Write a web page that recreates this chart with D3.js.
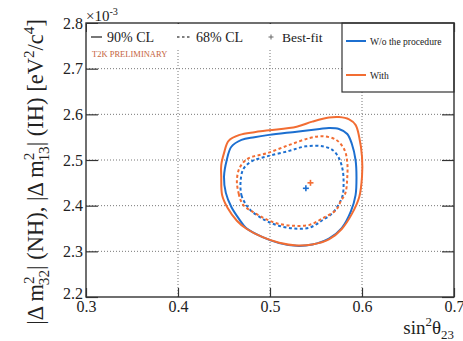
<!DOCTYPE html>
<html>
<head>
<meta charset="utf-8">
<script src="https://d3js.org/d3.v7.min.js"></script>
<style>
  body { margin: 0; background: #fff; }
  svg text { font-family: "Liberation Serif", "Times New Roman", Times, "DejaVu Serif", serif !important; fill: #222; }
</style>
</head>
<body>
<div class="chart"></div>
<script>
// data: [sin^2 theta23, dm^2 (x1e-3 eV^2)]
var xTicks = [0.3, 0.4, 0.5, 0.6, 0.7];
var yTicks = [2.2, 2.3, 2.4, 2.5, 2.6, 2.7, 2.8];

var blue90 = [
  [0.450, 2.463], [0.452, 2.428], [0.458, 2.397], [0.467, 2.369], [0.474, 2.351],
  [0.492, 2.331], [0.510, 2.318], [0.529, 2.312], [0.546, 2.315], [0.564, 2.328],
  [0.578, 2.351], [0.588, 2.388], [0.593, 2.423], [0.594, 2.463], [0.593, 2.500],
  [0.589, 2.535], [0.584, 2.557], [0.575, 2.568], [0.564, 2.570], [0.554, 2.568],
  [0.529, 2.562], [0.499, 2.555], [0.483, 2.550], [0.469, 2.544], [0.458, 2.529],
  [0.453, 2.500]
];
var orange90 = [
  [0.447, 2.463], [0.448, 2.423], [0.454, 2.395], [0.464, 2.367], [0.474, 2.350],
  [0.492, 2.331], [0.510, 2.319], [0.529, 2.313], [0.546, 2.315], [0.564, 2.326],
  [0.578, 2.349], [0.589, 2.382], [0.597, 2.419], [0.600, 2.463], [0.600, 2.507],
  [0.597, 2.550], [0.593, 2.577], [0.586, 2.589], [0.575, 2.594], [0.564, 2.593],
  [0.546, 2.584], [0.529, 2.573], [0.499, 2.565], [0.483, 2.561], [0.467, 2.555],
  [0.455, 2.542], [0.450, 2.515], [0.447, 2.489]
];
var blue68 = [
  [0.468, 2.452], [0.469, 2.423], [0.474, 2.402], [0.480, 2.388], [0.494, 2.369],
  [0.508, 2.357], [0.526, 2.350], [0.543, 2.352], [0.557, 2.368], [0.568, 2.384],
  [0.575, 2.404], [0.579, 2.423], [0.580, 2.450], [0.579, 2.478], [0.575, 2.504],
  [0.568, 2.522], [0.557, 2.530], [0.539, 2.530], [0.521, 2.520], [0.497, 2.508],
  [0.480, 2.497], [0.471, 2.480]
];
var orange68 = [
  [0.464, 2.454], [0.466, 2.426], [0.468, 2.412], [0.472, 2.399], [0.480, 2.388],
  [0.494, 2.372], [0.508, 2.361], [0.526, 2.356], [0.543, 2.358], [0.557, 2.372],
  [0.572, 2.391], [0.577, 2.410], [0.582, 2.428], [0.584, 2.463], [0.584, 2.494],
  [0.581, 2.522], [0.572, 2.544], [0.557, 2.552], [0.543, 2.548], [0.521, 2.533],
  [0.497, 2.515], [0.476, 2.503], [0.467, 2.483]
];
var bestFit = [[0.539, 2.438], [0.544, 2.450]];

var seriesNames = ["W/o the procedure", "With"];
var seriesColors = ["#1c6fd0", "#f26d33"];

var svgWidth = 463;
var svgHeight = 341;
var frame = { left: 86, right: 454, top: 23, bottom: 297 };
var serif = "'Liberation Serif', 'Times New Roman', Times, 'DejaVu Serif', serif";

var svg = d3.select(".chart")
  .append("svg")
  .attr("width", svgWidth)
  .attr("height", svgHeight)
  .style("font-family", serif);

var x = d3.scaleLinear().domain([0.3, 0.7]).range([frame.left, frame.right]);
var y = d3.scaleLinear().domain([2.2, 2.8]).range([frame.bottom, frame.top]);

// dotted grid
var grid = svg.append("g")
  .attr("stroke", "#777")
  .attr("stroke-width", 1)
  .attr("stroke-dasharray", "1,2");

grid.selectAll(".gx")
  .data(xTicks.slice(1, -1))
  .enter()
  .append("line")
  .attr("x1", d => x(d)).attr("x2", d => x(d))
  .attr("y1", frame.top).attr("y2", frame.bottom);

grid.selectAll(".gy")
  .data(yTicks.slice(1, -1))
  .enter()
  .append("line")
  .attr("y1", d => y(d)).attr("y2", d => y(d))
  .attr("x1", frame.left).attr("x2", frame.right);

// axes with inward ticks
var fmt = d3.format(".1f");

var xAxis = svg.append("g")
  .attr("transform", `translate(0, ${frame.bottom})`)
  .call(d3.axisBottom(x).tickValues(xTicks).tickFormat(fmt).tickSize(-9).tickPadding(4));

var xAxisTop = svg.append("g")
  .attr("transform", `translate(0, ${frame.top})`)
  .call(d3.axisTop(x).tickValues(xTicks).tickFormat("").tickSize(-9));

var yAxis = svg.append("g")
  .attr("transform", `translate(${frame.left}, 0)`)
  .call(d3.axisLeft(y).tickValues(yTicks).tickFormat(fmt).tickSize(-12).tickPadding(3));

var yAxisRight = svg.append("g")
  .attr("transform", `translate(${frame.right}, 0)`)
  .call(d3.axisRight(y).tickValues(yTicks).tickFormat("").tickSize(-12));

svg.selectAll(".domain").remove();
svg.selectAll(".tick line").attr("stroke", "#333").attr("stroke-width", 1.2);
svg.selectAll("g.tick text")
  .style("font-family", serif)
  .attr("font-size", 16)
  .attr("fill", "#222");
// lowest y label sits just above the 0.3 label
yAxis.selectAll("g.tick text").filter(d => d === 2.2).attr("dy", "0.1em");

// contours
var line = d3.line()
  .x(d => x(d[0]))
  .y(d => y(d[1]))
  .curve(d3.curveCatmullRomClosed.alpha(0.5));

var contours = [
  { pts: blue90, color: seriesColors[0], dash: null },
  { pts: orange90, color: seriesColors[1], dash: null },
  { pts: blue68, color: seriesColors[0], dash: "3,2.5" },
  { pts: orange68, color: seriesColors[1], dash: "3,2.5" }
];

svg.append("g")
  .selectAll("path")
  .data(contours)
  .enter()
  .append("path")
  .attr("d", d => line(d.pts))
  .attr("fill", "none")
  .attr("stroke", d => d.color)
  .attr("stroke-width", 2)
  .attr("stroke-dasharray", d => d.dash);

// best-fit crosses
var cross = svg.append("g")
  .selectAll("g")
  .data(bestFit)
  .enter()
  .append("g")
  .attr("transform", d => `translate(${x(d[0])}, ${y(d[1])})`)
  .attr("stroke", (d, i) => seriesColors[i])
  .attr("stroke-width", 1.6);
cross.append("line").attr("x1", -3).attr("x2", 3);
cross.append("line").attr("y1", -3).attr("y2", 3);

// legend boxes cover the grid
svg.append("rect")
  .attr("x", frame.left + 1).attr("y", frame.top + 1)
  .attr("width", 342 - frame.left - 1).attr("height", 26)
  .attr("fill", "#fff");

svg.append("rect")
  .attr("x", 342).attr("y", frame.top)
  .attr("width", frame.right - 342).attr("height", 69)
  .attr("fill", "#fff")
  .attr("stroke", "#333")
  .attr("stroke-width", 1.2);

// frame
svg.append("rect")
  .attr("x", frame.left).attr("y", frame.top)
  .attr("width", frame.right - frame.left).attr("height", frame.bottom - frame.top)
  .attr("fill", "none")
  .attr("stroke", "#333")
  .attr("stroke-width", 1.4);

// top legend: line styles
var topLegend = svg.append("g");
topLegend.append("line")
  .attr("x1", 91).attr("x2", 102).attr("y1", 37).attr("y2", 37)
  .attr("stroke", "#555").attr("stroke-width", 1.6);
topLegend.append("text").attr("x", 107).attr("y", 42).attr("font-size", 14).text("90% CL");
topLegend.append("line")
  .attr("x1", 177).attr("x2", 192).attr("y1", 37).attr("y2", 37)
  .attr("stroke", "#555").attr("stroke-width", 1.4).attr("stroke-dasharray", "2.5,2.5");
topLegend.append("text").attr("x", 196).attr("y", 42).attr("font-size", 14).text("68% CL");
var lc = topLegend.append("g")
  .attr("transform", "translate(271, 37)")
  .attr("stroke", "#666").attr("stroke-width", 1);
lc.append("line").attr("x1", -2.5).attr("x2", 2.5);
lc.append("line").attr("y1", -2.5).attr("y2", 2.5);
topLegend.append("text").attr("x", 282).attr("y", 42).attr("font-size", 13.5).text("Best-fit");

svg.append("text")
  .attr("x", 92).attr("y", 57)
  .attr("font-size", 8.5)
  .style("fill", "#c5643d")
  .text("T2K PRELIMINARY");

// series legend
var legend = svg.append("g")
  .selectAll("g")
  .data(seriesNames)
  .enter()
  .append("g")
  .attr("transform", (d, i) => `translate(346, ${41 + i * 34})`);
legend.append("line")
  .attr("x1", 0).attr("x2", 20)
  .attr("stroke", (d, i) => seriesColors[i])
  .attr("stroke-width", 2);
legend.append("text")
  .attr("x", 24).attr("y", 3.5)
  .attr("font-size", 9.6)
  .text(d => d);

// text with super/subscripts built from pieces
function richText(sel, pieces, size) {
  var shift = 0;
  pieces.forEach(function (p) {
    var ts = sel.append("tspan").text(p.t);
    var target = p.sup ? -0.42 * size : p.sub ? 0.28 * size : 0;
    ts.attr("dy", target - shift);
    shift = target;
    if (p.sup || p.sub) ts.attr("font-size", size * 0.68);
    if (p.dx) ts.attr("dx", p.dx);
  });
}

var expo = svg.append("text").attr("x", 86).attr("y", 21).attr("font-size", 15);
richText(expo, [{ t: "\u00d710" }, { t: "-3", sup: true }], 15);

var xTitle = svg.append("text")
  .attr("x", 454).attr("y", 334)
  .attr("text-anchor", "end")
  .attr("font-size", 19);
richText(xTitle, [{ t: "sin" }, { t: "2", sup: true }, { t: "\u03b8" }, { t: "23", sub: true }], 19);

var yTitle = svg.append("text")
  .attr("transform", "translate(43, 19) rotate(-90)")
  .attr("text-anchor", "end")
  .attr("font-size", 22.5);
richText(yTitle, [
  { t: "|\u0394 m" }, { t: "2", sup: true }, { t: "32", sub: true, dx: -9 },
  { t: "| (NH), |\u0394 m" }, { t: "2", sup: true }, { t: "13", sub: true, dx: -9 },
  { t: "| (IH) [eV" }, { t: "2", sup: true }, { t: "/c" }, { t: "4", sup: true }, { t: "]" }
], 22.5);
</script>
</body>
</html>
